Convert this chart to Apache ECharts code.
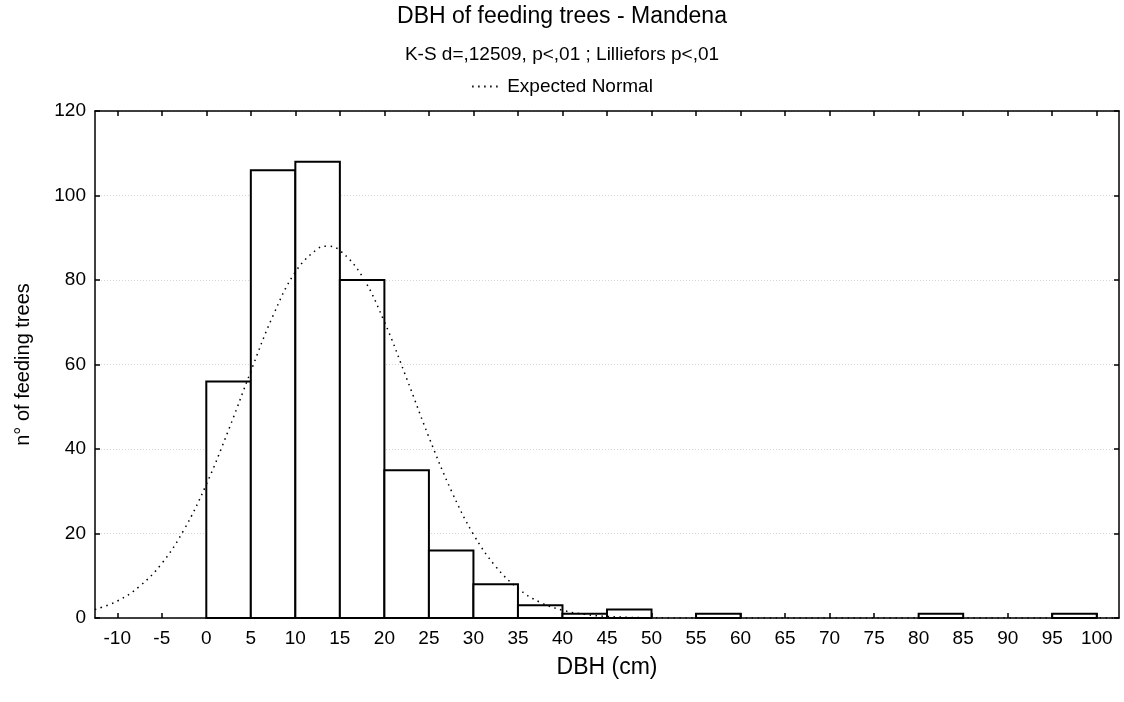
<!DOCTYPE html>
<html>
<head>
<meta charset="utf-8">
<script src="https://cdn.jsdelivr.net/npm/echarts@6/dist/echarts.min.js"></script>
<style>
  html, body { margin: 0; padding: 0; background: #fff; }
  #chart { width: 1124px; height: 702px; }
</style>
</head>
<body>
<div id="chart"></div>
<script>
// Histogram of DBH (cm) of feeding trees, 5 cm bins
const binStarts = [0, 5, 10, 15, 20, 25, 30, 35, 40, 45, 50, 55, 60, 65, 70, 75, 80, 85, 90, 95];
const binWidth = 5;
const counts = [56, 106, 108, 80, 35, 16, 8, 3, 1, 2, 0, 1, 0, 0, 0, 0, 1, 0, 0, 1];

// Expected normal curve (counts per bin), sampled along DBH
const normalX = [-12.5, -10, -7.5, -5, -2.5, 0, 2.5, 5, 7.5, 10, 12.5, 13.6, 15, 17.5, 20, 22.5, 25, 27.5, 30, 32.5, 35, 37.5, 40, 42.5, 45, 47.5, 50, 55, 60, 70, 80, 90, 102.5];
const normalY = [2.0, 4.0, 7.5, 12.9, 20.9, 31.6, 44.5, 58.4, 71.6, 81.9, 87.4, 88.0, 87.0, 80.9, 70.1, 56.7, 42.8, 30.2, 19.8, 12.2, 7.0, 3.7, 1.85, 0.86, 0.37, 0.15, 0.06, 0, 0, 0, 0, 0, 0];

// Tick labels
const xTicks = [-10, -5, 0, 5, 10, 15, 20, 25, 30, 35, 40, 45, 50, 55, 60, 65, 70, 75, 80, 85, 90, 95, 100];
const xMin = -12.5, xMax = 102.5;
const yMin = 0, yMax = 120, yStep = 20;

const FONT = 'Liberation Sans, Arial, sans-serif';

const barData = binStarts.map((s, i) => [s, s + binWidth, counts[i]]);
const curveData = normalX.map((x, i) => [x, normalY[i]]);

const chart = echarts.init(document.getElementById('chart'), null, { renderer: 'canvas' });

const frameLine = { show: true, onZero: false, lineStyle: { color: '#000', width: 1.5 } };
const innerTick = { show: true, inside: true, length: 5, lineStyle: { color: '#000', width: 1.5 } };

chart.setOption({
  animation: false,
  backgroundColor: '#fff',
  title: [
    {
      text: 'DBH of feeding trees - Mandena',
      left: 'center',
      top: 0,
      textStyle: { fontFamily: FONT, fontSize: 23, fontWeight: 'normal', color: '#000' }
    },
    {
      text: 'K-S d=,12509, p<,01 ; Lilliefors p<,01',
      left: 'center',
      top: 40,
      textStyle: { fontFamily: FONT, fontSize: 19, fontWeight: 'normal', color: '#000' }
    }
  ],
  legend: {
    top: 72,
    left: 'center',
    itemWidth: 30,
    itemHeight: 10,
    itemGap: 12,
    textStyle: { fontFamily: FONT, fontSize: 19, color: '#000' },
    itemStyle: { opacity: 0 },
    data: ['Expected Normal']
  },
  grid: { left: 95, right: 5, top: 111, bottom: 84 },
  xAxis: [
    {
      type: 'value', min: xMin, max: xMax, position: 'bottom',
      name: 'DBH (cm)', nameLocation: 'middle', nameGap: 38,
      nameTextStyle: { fontFamily: FONT, fontSize: 23, color: '#000' },
      axisLine: frameLine,
      axisTick: Object.assign({ customValues: xTicks }, innerTick),
      axisLabel: { customValues: xTicks, fontFamily: FONT, fontSize: 19, color: '#000', margin: 11 },
      splitLine: { show: false }
    },
    {
      type: 'value', min: xMin, max: xMax, position: 'top',
      axisLine: frameLine,
      axisTick: Object.assign({ customValues: xTicks }, innerTick),
      axisLabel: { show: false },
      splitLine: { show: false }
    }
  ],
  yAxis: [
    {
      type: 'value', min: yMin, max: yMax, interval: yStep, position: 'left',
      name: 'n° of feeding trees', nameLocation: 'middle', nameGap: 62, nameRotate: 90,
      nameTextStyle: { fontFamily: FONT, fontSize: 20, color: '#000' },
      axisLine: frameLine,
      axisTick: innerTick,
      axisLabel: { fontFamily: FONT, fontSize: 19, color: '#000', margin: 9 },
      splitLine: { show: true, lineStyle: { color: '#d6d6d6', width: 1, type: [1, 2] } }
    },
    {
      type: 'value', min: yMin, max: yMax, interval: yStep, position: 'right',
      axisLine: frameLine,
      axisTick: innerTick,
      axisLabel: { show: false },
      splitLine: { show: false }
    }
  ],
  series: [
    {
      name: 'Counts',
      type: 'custom',
      xAxisIndex: 0,
      yAxisIndex: 0,
      z: 2,
      data: barData,
      encode: { x: [0, 1], y: 2 },
      renderItem: function (params, api) {
        const v = api.value(2);
        if (!v) return null;
        const p0 = api.coord([api.value(0), 0]);
        const p1 = api.coord([api.value(1), v]);
        return {
          type: 'rect',
          shape: { x: p0[0], y: p1[1], width: p1[0] - p0[0], height: p0[1] - p1[1] },
          style: { fill: '#fff', stroke: '#000', lineWidth: 2 }
        };
      }
    },
    {
      name: 'Expected Normal',
      type: 'line',
      xAxisIndex: 0,
      yAxisIndex: 0,
      z: 3,
      smooth: 0.4,
      symbol: 'none',
      data: curveData,
      lineStyle: { color: '#000', width: 1.5, type: [1.5, 4.5] },
      itemStyle: { color: '#000' }
    }
  ]
});
</script>
</body>
</html>
